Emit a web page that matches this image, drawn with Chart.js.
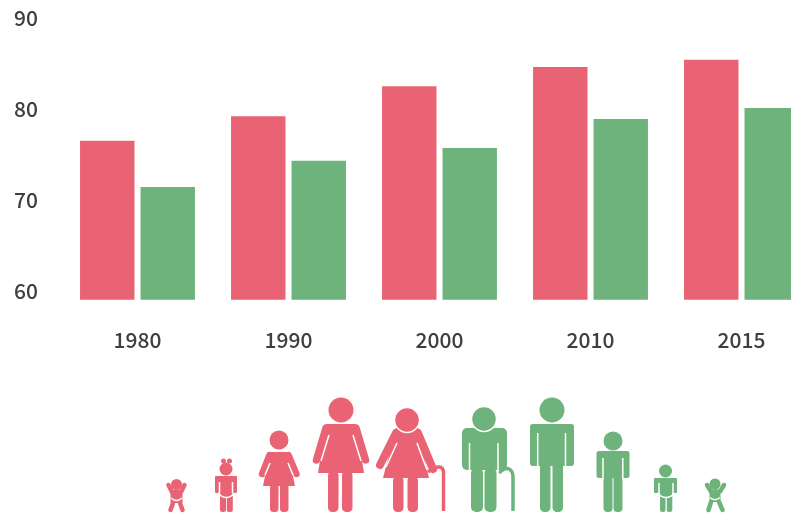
<!DOCTYPE html>
<html>
<head>
<meta charset="utf-8">
<title>Life expectancy</title>
<script src="https://cdn.jsdelivr.net/npm/chart.js"></script>
<style>
    html, body { margin: 0; padding: 0; background: #fff; }
    #wrap { position: relative; width: 791px; height: 514px; overflow: hidden; filter: blur(0.5px); }
    #chart { position: absolute; left: 0; top: 0; }
    #people { position: absolute; left: 0; top: 0; }
    .r { fill: #EA6374; }
    .g { fill: #6DB37B; }
    .cut { stroke: #fff; stroke-width: 1.5; fill: none; }
    .ring { stroke: #fff; stroke-width: 1.5; }
    .caneR { stroke: #EA6374; stroke-width: 3.5; fill: none; }
    .caneG { stroke: #6DB37B; stroke-width: 3.5; fill: none; }
    .limbR { stroke: #EA6374; fill: none; stroke-linecap: round; stroke-linejoin: round; }
    .limbG { stroke: #6DB37B; fill: none; stroke-linecap: round; stroke-linejoin: round; }
</style>
</head>
<body>
<div id="wrap">
    <canvas id="chart" width="830" height="514"></canvas>
    <svg id="people" width="791" height="514">
        <!-- baby girl -->
        <g>
            <circle class="r" cx="176.5" cy="484.5" r="5.5"/>
            <path class="limbR" stroke-width="4.5" d="M168.5 485 L172 492 L181 492 L184.5 485"/>
            <rect class="r" x="170.5" y="491" width="12" height="12" rx="1"/>
            <path class="limbR" stroke-width="4.5" d="M173 503 L170.5 510 M180 503 L182.5 510"/>
            <path class="cut" d="M171 498 Q176.5 503 182 498"/>
        </g>
        <!-- toddler girl -->
        <g>
            <circle class="r" cx="223.5" cy="461" r="2.5"/>
            <circle class="r" cx="229.5" cy="461" r="2.5"/>
            <circle class="r" cx="226" cy="469" r="6.5"/>
            <rect class="r" x="215" y="476" width="22" height="17" rx="1"/>
            <rect class="r" x="220" y="488" width="12.5" height="10"/>
            <rect class="r" x="220" y="494" width="6" height="18" rx="2.5"/>
            <rect class="r" x="226.8" y="494" width="6" height="18" rx="2.5"/>
            <path class="cut" d="M219.5 482 L219.5 493 M232.5 482 L232.5 493 M218 493 Q226 502 235 493"/>
        </g>
        <!-- girl -->
        <g>
            <circle class="r" cx="279" cy="440" r="9.5"/>
            <path class="r" d="M270 452 L288 452 L295 486 L263 486 Z"/>
            <path class="limbR" stroke-width="6.5" d="M269.5 455 L262 474 M288.5 455 L296.5 474"/>
            <path class="cut" d="M270 463 L265 475 M288 463 L293 475"/>
            <rect class="r" x="270" y="484" width="8.5" height="28" rx="3.5"/>
            <rect class="r" x="280" y="484" width="8.5" height="28" rx="3.5"/>
        </g>
        <!-- woman -->
        <g>
            <circle class="r" cx="341" cy="410" r="12.5"/>
            <path class="r" d="M326 424 L356 424 L364 473 L318 473 Z"/>
            <path class="limbR" stroke-width="7.5" d="M326 428 L316.5 460 M356 428 L365.5 460"/>
            <path class="cut" d="M329 435 L321 461 M353 435 L361 461"/>
            <rect class="r" x="328" y="471" width="10.5" height="41" rx="4.5"/>
            <rect class="r" x="342" y="471" width="10.5" height="41" rx="4.5"/>
        </g>
        <!-- grandmother -->
        <g>
            <path class="caneR" d="M428 472 Q434 467 439 467 Q443.5 467 443.5 473 L443.5 511"/>
            <path class="r" d="M396 428 L418 428 L429 478 L383 478 Z"/>
            <path class="limbR" stroke-width="8" d="M396 433 L380 465 M418 433 L433 469"/>
            <path class="cut" d="M397 443 L386 467 M417 443 L427 470"/>
            <rect class="r" x="393" y="476" width="10.5" height="36" rx="4.5"/>
            <rect class="r" x="407.5" y="476" width="10.5" height="36" rx="4.5"/>
            <circle class="r ring" cx="407" cy="420" r="12.5"/>
        </g>
        <!-- old man -->
        <g>
            <path class="caneG" d="M499 473 Q505 467 509 469 Q513 471 513 477 L513 511"/>
            <rect class="g" x="462" y="428" width="45" height="42" rx="5"/>
            <rect class="g" x="471" y="468" width="12" height="44" rx="5"/>
            <rect class="g" x="484.5" y="468" width="12" height="44" rx="5"/>
            <path class="cut" d="M469.5 443 L469.5 472 M498 443 L498 472"/>
            <circle class="g ring" cx="484" cy="419" r="12.5"/>
        </g>
        <!-- man -->
        <g>
            <circle class="g" cx="552" cy="410" r="12.5"/>
            <rect class="g" x="530" y="424" width="44" height="42" rx="3"/>
            <rect class="g" x="540" y="462" width="10.5" height="50" rx="4.5"/>
            <rect class="g" x="552.5" y="462" width="10.5" height="50" rx="4.5"/>
            <path class="cut" d="M537.7 433 L537.7 467 M565.5 433 L565.5 467"/>
        </g>
        <!-- boy -->
        <g>
            <circle class="g" cx="613" cy="441" r="9.5"/>
            <rect class="g" x="596.5" y="451" width="33" height="27" rx="2.5"/>
            <rect class="g" x="603.5" y="474" width="9" height="38" rx="4"/>
            <rect class="g" x="613.5" y="474" width="9" height="38" rx="4"/>
            <path class="cut" d="M603 458 L603 479 M622.8 458 L622.8 479"/>
        </g>
        <!-- toddler boy -->
        <g>
            <circle class="g" cx="665.5" cy="471" r="6.5"/>
            <rect class="g" x="654" y="478" width="23" height="15" rx="1"/>
            <rect class="g" x="660" y="488" width="12" height="10"/>
            <rect class="g" x="660" y="494" width="5.5" height="18" rx="2.5"/>
            <rect class="g" x="666.8" y="494" width="5.5" height="18" rx="2.5"/>
            <path class="cut" d="M659 483 L659 493 M673 483 L673 493 M657 493 Q666 502 675 493"/>
        </g>
        <!-- baby boy -->
        <g>
            <circle class="g" cx="715" cy="484" r="5.5"/>
            <path class="limbG" stroke-width="4.5" d="M707 485 L711 491.5 L720 491.5 L724 485"/>
            <rect class="g" x="709.5" y="491" width="11" height="11" rx="1"/>
            <path class="limbG" stroke-width="4.5" d="M711 502 L708.5 510 M719 502 L722.5 510"/>
            <path class="cut" d="M710 497.5 Q715 502 720 497.5"/>
        </g>
    </svg>
</div>
<script>
    const YEARS = ["1980", "1990", "2000", "2010", "2015"];
    const WOMEN = [76.5, 79.2, 82.5, 84.6, 85.4];
    const MEN = [71.4, 74.3, 75.7, 78.9, 80.1];
    const Y_TICKS = [60, 70, 80, 90];

    const RED = "#EA6374";
    const GREEN = "#6DB37B";
    const TEXT = "#3f3f3f";
    const FONT = "'Noto Sans CJK SC', 'Noto Sans', sans-serif";

    new Chart(document.getElementById("chart"), {
        type: "bar",
        data: {
            labels: YEARS,
            datasets: [
                { label: "Women", data: WOMEN, backgroundColor: RED },
                { label: "Men", data: MEN, backgroundColor: GREEN }
            ]
        },
        options: {
            responsive: false,
            animation: false,
            layout: { padding: { top: 18, right: 13, bottom: 133, left: 0 } },
            plugins: { legend: { display: false }, tooltip: { enabled: false } },
            datasets: { bar: { categoryPercentage: 0.801, barPercentage: 0.9 } },
            scales: {
                x: {
                    grid: { display: false, drawTicks: false },
                    border: { display: false },
                    ticks: {
                        color: TEXT,
                        font: { family: FONT, size: 21, weight: "500" },
                        padding: 28,
                        maxRotation: 0
                    }
                },
                y: {
                    min: 59,
                    max: 90,
                    grid: { display: false, drawTicks: false },
                    border: { display: false },
                    afterBuildTicks: (scale) => { scale.ticks = Y_TICKS.map((v) => ({ value: v })); },
                    afterFit: (scale) => {
                        // tick padding would otherwise push the plot area down
                        scale.width = 62;
                        scale.paddingTop = 0;
                        scale.paddingBottom = 0;
                    },
                    ticks: {
                        color: TEXT,
                        font: { family: FONT, size: 21, weight: "500" },
                        padding: 24
                    }
                }
            }
        }
    });
</script>
</body>
</html>
